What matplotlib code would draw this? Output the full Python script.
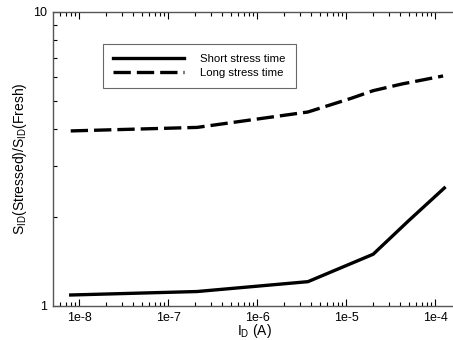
import matplotlib
matplotlib.use("Agg")
import matplotlib.pyplot as plt
from matplotlib.ticker import LogLocator, NullFormatter, FixedLocator, FixedFormatter

plt.rcParams['font.family'] = ['Liberation Sans', 'DejaVu Sans']
plt.rcParams['mathtext.default'] = 'regular'

# Data
i_d_short = [8.0e-9, 2.1e-7, 3.7e-6, 2.0e-5, 5.0e-5, 1.26e-4]
ratio_short = [1.09, 1.12, 1.21, 1.50, 1.95, 2.52]

i_d_long = [8.0e-9, 2.1e-7, 3.7e-6, 1.14e-5, 2.0e-5, 4.2e-5, 1.22e-4]
ratio_long = [3.94, 4.05, 4.57, 5.09, 5.40, 5.69, 6.06]

x_ticks = [1e-8, 1e-7, 1e-6, 1e-5, 1e-4]
x_labels = ['1e-8', '1e-7', '1e-6', '1e-5', '1e-4']

W, H = 453, 340
fig = plt.figure(figsize=(W / 100, H / 100), dpi=100)
ax = fig.add_axes([53 / W, 34 / H, (455 - 53) / W, 294 / H])

ax.plot(i_d_short, ratio_short, color='black', lw=2.4, label='Short stress time')
ax.plot(i_d_long, ratio_long, color='black', lw=2.4, linestyle=(0, (5.2, 1.8)),
        label='Long stress time')

ax.set_xscale('log')
ax.set_yscale('log')
ax.set_xlim(5.06e-9, 1.66e-4)
ax.set_ylim(1, 10)

ax.xaxis.set_major_locator(FixedLocator(x_ticks))
ax.xaxis.set_major_formatter(FixedFormatter(x_labels))
ax.xaxis.set_minor_locator(LogLocator(base=10, subs=range(2, 10), numticks=20))
ax.xaxis.set_minor_formatter(NullFormatter())
ax.yaxis.set_major_locator(FixedLocator([1, 10]))
ax.yaxis.set_major_formatter(FixedFormatter(['1', '10']))
ax.yaxis.set_minor_locator(LogLocator(base=10, subs=range(2, 10), numticks=20))
ax.yaxis.set_minor_formatter(NullFormatter())

ax.tick_params(which='both', direction='in', top=True, right=False,
               labelsize=9, colors='black', pad=4)
ax.tick_params(which='major', length=5, width=0.8)
ax.tick_params(which='minor', length=3, width=0.8)
for side in ['left', 'bottom', 'top', 'right']:
    ax.spines[side].set_color('#555555')
    ax.spines[side].set_linewidth(1.0)

ax.set_xlabel('I$_D$ (A)', fontsize=10, labelpad=-1)
ax.set_ylabel('S$_{ID}$(Stressed)/S$_{ID}$(Fresh)', fontsize=10, labelpad=3)

leg = ax.legend(loc='upper left', bbox_to_anchor=(103 / W, 1 - 44 / H),
                bbox_transform=fig.transFigure, fontsize=8.2, handlelength=6.2,
                frameon=True, fancybox=False, borderaxespad=0, borderpad=0.9,
                labelspacing=0.3, handletextpad=1.4)
leg.get_frame().set_edgecolor('#444444')
leg.get_frame().set_linewidth(0.8)

fig.savefig('out.png', dpi=100)
